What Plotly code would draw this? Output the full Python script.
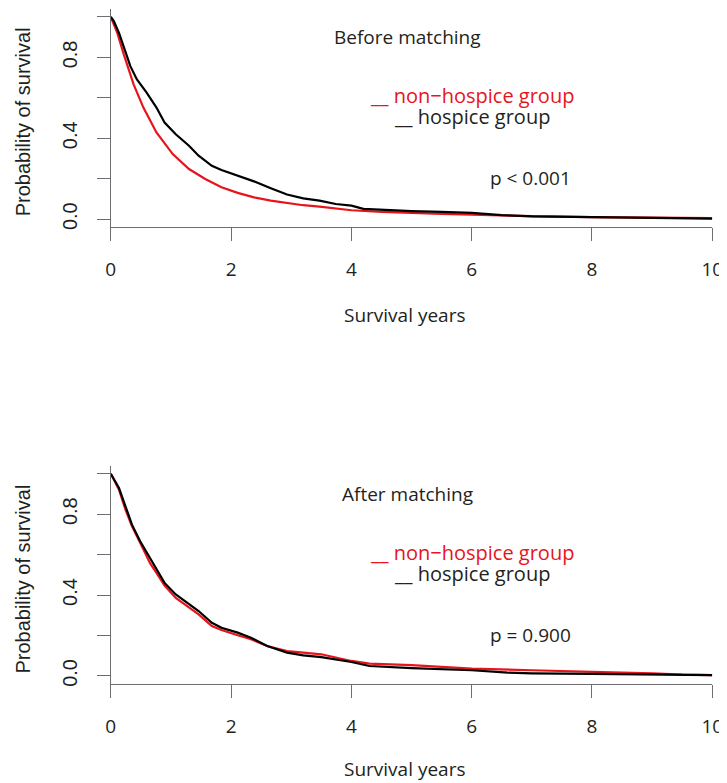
import plotly.graph_objects as go

# ---------------- data ----------------
before_nonhospice_t = [0, 0.108, 0.217, 0.379, 0.542, 0.759, 1.03, 1.30, 1.57, 1.84, 2.11, 2.38,
                       2.66, 2.93, 3.2, 3.47, 3.74, 4.0, 4.5, 5.0, 5.5, 6.0, 6.5, 7.0, 8.0, 9.0, 10.0]
before_nonhospice_s = [1, 0.921, 0.814, 0.667, 0.552, 0.429, 0.322, 0.248, 0.199, 0.158, 0.130, 0.108,
                       0.092, 0.079, 0.069, 0.062, 0.054, 0.044, 0.036, 0.030, 0.026, 0.022, 0.018, 0.015,
                       0.010, 0.007, 0.005]

before_hospice_t = [0, 0.05, 0.136, 0.217, 0.325, 0.434, 0.596, 0.759, 0.894, 1.08, 1.30, 1.46, 1.68,
                    1.84, 2.11, 2.38, 2.66, 2.93, 3.2, 3.47, 3.74, 4.0, 4.2, 4.5, 5.0, 5.5, 6.0, 6.5,
                    7.0, 8.0, 9.0, 10.0]
before_hospice_s = [1, 0.98, 0.921, 0.847, 0.757, 0.691, 0.626, 0.552, 0.478, 0.420, 0.363, 0.314, 0.264,
                    0.243, 0.215, 0.187, 0.153, 0.122, 0.103, 0.092, 0.075, 0.067, 0.051, 0.046, 0.040,
                    0.036, 0.031, 0.020, 0.014, 0.010, 0.006, 0.003]

after_hospice_t = [0, 0.136, 0.244, 0.352, 0.488, 0.65, 0.759, 0.894, 1.08, 1.30, 1.46, 1.68, 1.84,
                   2.11, 2.33, 2.60, 2.93, 3.2, 3.5, 4.0, 4.3, 5.0, 6.0, 6.6, 7.0, 8.0, 9.0, 10.0]
after_hospice_s = [1, 0.929, 0.839, 0.748, 0.666, 0.584, 0.526, 0.460, 0.403, 0.354, 0.321, 0.263, 0.238,
                   0.214, 0.189, 0.148, 0.115, 0.102, 0.093, 0.069, 0.049, 0.039, 0.028, 0.016, 0.013,
                   0.010, 0.006, 0.004]

after_nonhospice_t = [0, 0.136, 0.244, 0.352, 0.488, 0.65, 0.759, 0.894, 1.08, 1.30, 1.46, 1.68, 1.84,
                      2.11, 2.33, 2.60, 2.93, 3.2, 3.5, 4.0, 4.3, 5.0, 6.0, 7.0, 8.0, 9.0, 9.5, 10.0]
after_nonhospice_s = [1, 0.921, 0.822, 0.740, 0.658, 0.559, 0.510, 0.447, 0.386, 0.337, 0.304, 0.247, 0.227,
                      0.201, 0.181, 0.148, 0.123, 0.115, 0.107, 0.074, 0.061, 0.053, 0.036, 0.028, 0.021,
                      0.013, 0.006, 0.004]

x_ticks = [0, 2, 4, 6, 8, 10]
y_ticks = [0, 0.2, 0.4, 0.6, 0.8, 1.0]
y_ticktext = ["0.0", "", "0.4", "", "0.8", ""]

panel_titles = ["Before matching", "After matching"]
p_texts = ["p < 0.001", "p = 0.900"]
legend_names = ["non\u2212hospice group", "hospice group"]
x_title = "Survival years"
y_title = "Probability of survival"

# ---------------- styling ----------------
W, H = 727, 783
RED = "#e8141b"
BLACK = "#000000"
TEXT = "#231f20"
AXIS = "#6d6e71"
HFONT = "Open Sans"
VFONT = "Liberation Sans"


def px(x):
    return x / W


def py(y):
    return 1 - y / H


fig = go.Figure()

panels = [
    dict(xa="x", ya="y", dom=[py(220.1), py(0.9)], off=0, xtitle_y=308,
         curves=[(before_nonhospice_t, before_nonhospice_s, RED),
                 (before_hospice_t, before_hospice_s, BLACK)]),
    dict(xa="x2", ya="y2", dom=[py(678.6), py(459.4)], off=459, xtitle_y=764,
         curves=[(after_nonhospice_t, after_nonhospice_s, RED),
                 (after_hospice_t, after_hospice_s, BLACK)]),
]

for i, p in enumerate(panels):
    for t, s, c in p["curves"]:
        fig.add_trace(go.Scatter(x=t, y=s, mode="lines", xaxis=p["xa"], yaxis=p["ya"],
                                 line=dict(color=c, width=2.2), showlegend=False,
                                 hoverinfo="skip"))
    sfx = "" if i == 0 else "2"
    fig.layout["xaxis" + sfx] = dict(
        domain=[px(100), px(715)], range=[0, 10], anchor=p["ya"],
        showline=True, linecolor=AXIS, linewidth=1.3, showgrid=False, zeroline=False,
        tickmode="array", tickvals=x_ticks, ticktext=[str(v) for v in x_ticks],
        ticks="outside", ticklen=13, tickwidth=1.3, tickcolor=AXIS,
        tickfont=dict(family=HFONT, size=19, color=TEXT), ticklabelstandoff=12,
        fixedrange=True)
    fig.layout["yaxis" + sfx] = dict(
        domain=p["dom"], range=[-0.04, 1.04], anchor=p["xa"],
        showline=True, linecolor=AXIS, linewidth=1.3, showgrid=False, zeroline=False,
        tickmode="array", tickvals=y_ticks, ticktext=y_ticktext,
        ticks="outside", ticklen=13, tickwidth=1.3, tickcolor=AXIS, tickangle=-90,
        tickfont=dict(family=VFONT, size=20, color=TEXT), ticklabelstandoff=12,
        fixedrange=True)

    o = p["off"]
    ann = [
        dict(text=panel_titles[i], x=px(403), y=py(29 + o), font=dict(family=HFONT, size=19, color=TEXT)),
        dict(text="__ " + legend_names[0], x=px(469), y=py(88 + o), font=dict(family=HFONT, size=20, color=RED)),
        dict(text="__ " + legend_names[1], x=px(469), y=py(109 + o), font=dict(family=HFONT, size=20, color=TEXT)),
        dict(text=p_texts[i], x=px(529), y=py(170.5 + o), font=dict(family=HFONT, size=19, color=TEXT)),
        dict(text=x_title, x=px(400), y=py(p["xtitle_y"]), font=dict(family=HFONT, size=19, color=TEXT)),
        dict(text=y_title, x=px(10), y=py(114 + o), textangle=-90, font=dict(family=VFONT, size=20, color=TEXT)),
    ]
    for a in ann:
        a.update(xref="paper", yref="paper", xanchor="center", yanchor="middle", showarrow=False)
        fig.add_annotation(**a)

fig.update_layout(width=W, height=H, margin=dict(l=0, r=0, t=0, b=0),
                  paper_bgcolor="white", plot_bgcolor="white", showlegend=False)

fig.write_html("out.html", config={"displayModeBar": False})
